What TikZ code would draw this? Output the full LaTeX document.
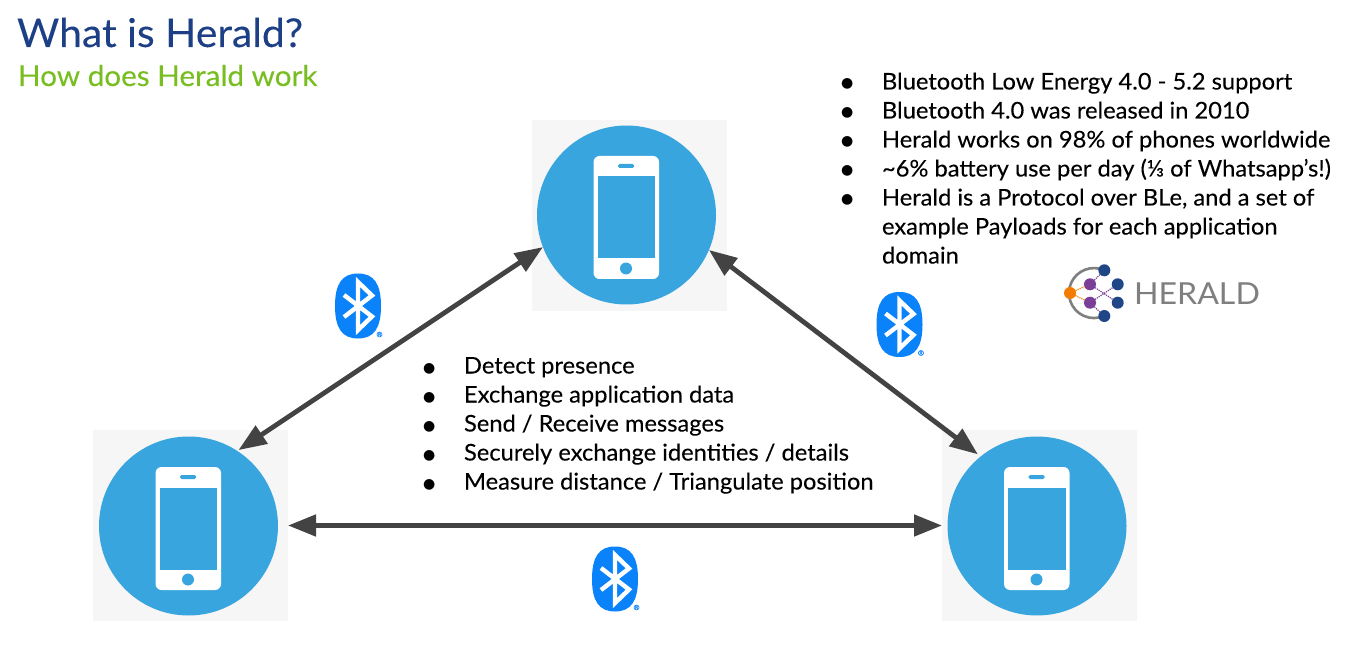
\documentclass[tikz,border=0pt]{standalone}
\usepackage{fontspec}
\setmainfont{Lato}[FakeStretch=1.03,FakeBold=0.12]
\newfontfamily\bulletfont{DejaVu Sans}
\newfontfamily\wordfont{Lato}[FakeStretch=1.06]
\usetikzlibrary{arrows.meta}
\definecolor{titleblue}{HTML}{1C3F85}
\definecolor{subgreen}{HTML}{78BE20}
\definecolor{tilegray}{HTML}{F6F6F6}
\definecolor{phoneblue}{HTML}{38A5DE}
\definecolor{btblue}{HTML}{0A82FA}
\definecolor{arrowgray}{HTML}{434343}
\definecolor{logoblue}{HTML}{1F4788}
\definecolor{logopurple}{HTML}{7B3F98}
\definecolor{logoorange}{HTML}{F47B00}
\definecolor{logogray}{HTML}{7F7F7F}
\tikzset{
  x=1pt,y=-1pt,
  every node/.style={inner sep=0pt,outer sep=0pt},
  tile/.style={fill=tilegray,minimum width=195pt,minimum height=191pt},
  phonecircle/.style={fill=phoneblue,circle,minimum size=179pt},
  link/.style={draw=arrowgray,line width=4.8pt,{Triangle[length=28pt,width=21pt]}-{Triangle[length=28pt,width=21pt]}},
  listtext/.style={anchor=base west,font=\fontsize{23}{26}\selectfont,text=black},
  bul/.style={anchor=base west,font=\bulletfont\fontsize{14}{18}\selectfont,text=black},
  logoedge/.style={densely dotted,line width=1.2pt},
  lognode/.style={circle,minimum size=12pt},
  phone/.pic={
    \fill[white,rounded corners=6pt] (-33,-59) rectangle (32.5,64);
    \fill[phoneblue] (-29,-38.5) rectangle (28.5,43.5);
    \fill[phoneblue,rounded corners=1.5pt] (-8.5,-51) rectangle (7.5,-47);
    \fill[phoneblue] (-0.5,53.5) circle (6);
  },
  bt/.pic={
    \fill[btblue] (0,-32.5) .. controls (16,-32.5) and (23,-22) .. (23,0)
      .. controls (23,22) and (16,32.5) .. (0,32.5)
      .. controls (-16,32.5) and (-23,22) .. (-23,0)
      .. controls (-23,-22) and (-16,-32.5) .. (0,-32.5) -- cycle;
    \draw[white,line width=4.4pt,miter limit=10] (-14,-11) -- (14,10.5) -- (0,24) -- (0,-24) -- (14,-10.5) -- (-14,11);
    \node[text=btblue,font=\fontsize{7}{7}\selectfont] at (21.5,28.5) {®};
  }
}
\newcommand{\li}[4]{%
  \node[bul] (#1b) at (#2,#3-1.5) {●};
  \node[listtext] (#1) at (#2+41,#3) {#4};
}
\begin{document}
\begin{tikzpicture}
\useasboundingbox (0,0) rectangle (1365,652);
\fill[white] (0,0) rectangle (1365,652);
\node[anchor=base west,text=titleblue,font=\fontsize{39.7}{44}\selectfont] (title) at (17,47) {What is Herald?};
\node[anchor=base west,text=subgreen,font=\fontsize{28.8}{34}\selectfont] (subtitle) at (18,86) {How does Herald work};

\node[tile] (toptile) at (629,215.5) {};
\node[tile] (lefttile) at (190.5,525.5) {};
\node[tile] (righttile) at (1039.5,525.5) {};
\node[phonecircle] (top) at (626.5,215) {};
\node[phonecircle] (left) at (188.5,526) {};
\node[phonecircle] (right) at (1037,526) {};
\pic at (626.5,215) {phone};
\pic at (188.5,526) {phone};
\pic at (1037,526) {phone};

\draw[link,shorten >=1.5pt] (top.201.8) -- (left.57.3);
\draw[link,shorten >=3.5pt] (top.-23) -- (right.129.3);
\draw[link] (lefttile.east) -- (righttile.west);

\pic at (358,306) {bt};
\pic at (899.5,324.5) {bt};
\pic at (615,579) {bt};

\li{a}{841}{89.5}{Bluetooth Low Energy 4.0 - 5.2 support}
\li{b}{841}{118.5}{Bluetooth 4.0 was released in 2010}
\li{c}{841}{147.5}{Herald works on 98\% of phones worldwide}
\li{d}{841}{176.5}{\textasciitilde6\% battery use per day (⅓ of Whatsapp’s!)}
\li{e}{841}{205.5}{Herald is a Protocol over BLe, and a set of}
\node[listtext] (e2) at (882,234.5) {example Payloads for each application};
\node[listtext] (e3) at (882,263.5) {domain};

\li{f}{423}{373.5}{Detect presence}
\li{g}{423}{402.5}{Exchange application data}
\li{h}{423}{431.5}{Send / Receive messages}
\li{i}{423}{460.5}{Securely exchange identities / details}
\li{j}{423}{489.5}{Measure distance / Triangulate position}

% logo
\draw[logogray,line width=2.6pt] (1104.3,270.3) arc[start angle=-65.6,end angle=-294.4,radius=25];
\node[lognode,fill=logoblue] (n1) at (1104.3,270.3) {};
\node[lognode,fill=logoblue] (n2) at (1117.7,284.3) {};
\node[lognode,fill=logoblue] (n3) at (1117.7,302.7) {};
\node[lognode,fill=logoblue] (n4) at (1104.3,316) {};
\node[lognode,fill=logopurple] (p1) at (1090,284.3) {};
\node[lognode,fill=logopurple] (p2) at (1090,302.7) {};
\node[lognode,fill=logoorange] (o) at (1070,293) {};
\draw[logoedge,logopurple] (p1) -- (n1) (p1) -- (n3) (p2) -- (n2) (p2) -- (n4);
\draw[logoedge,logoorange] (o) -- (p1) (o) -- (p2);
\node[anchor=base west,text=logogray,font=\wordfont\fontsize{30.3}{36}\selectfont] (heraldword) at (1134,305) {HERALD};
\end{tikzpicture}
\end{document}
